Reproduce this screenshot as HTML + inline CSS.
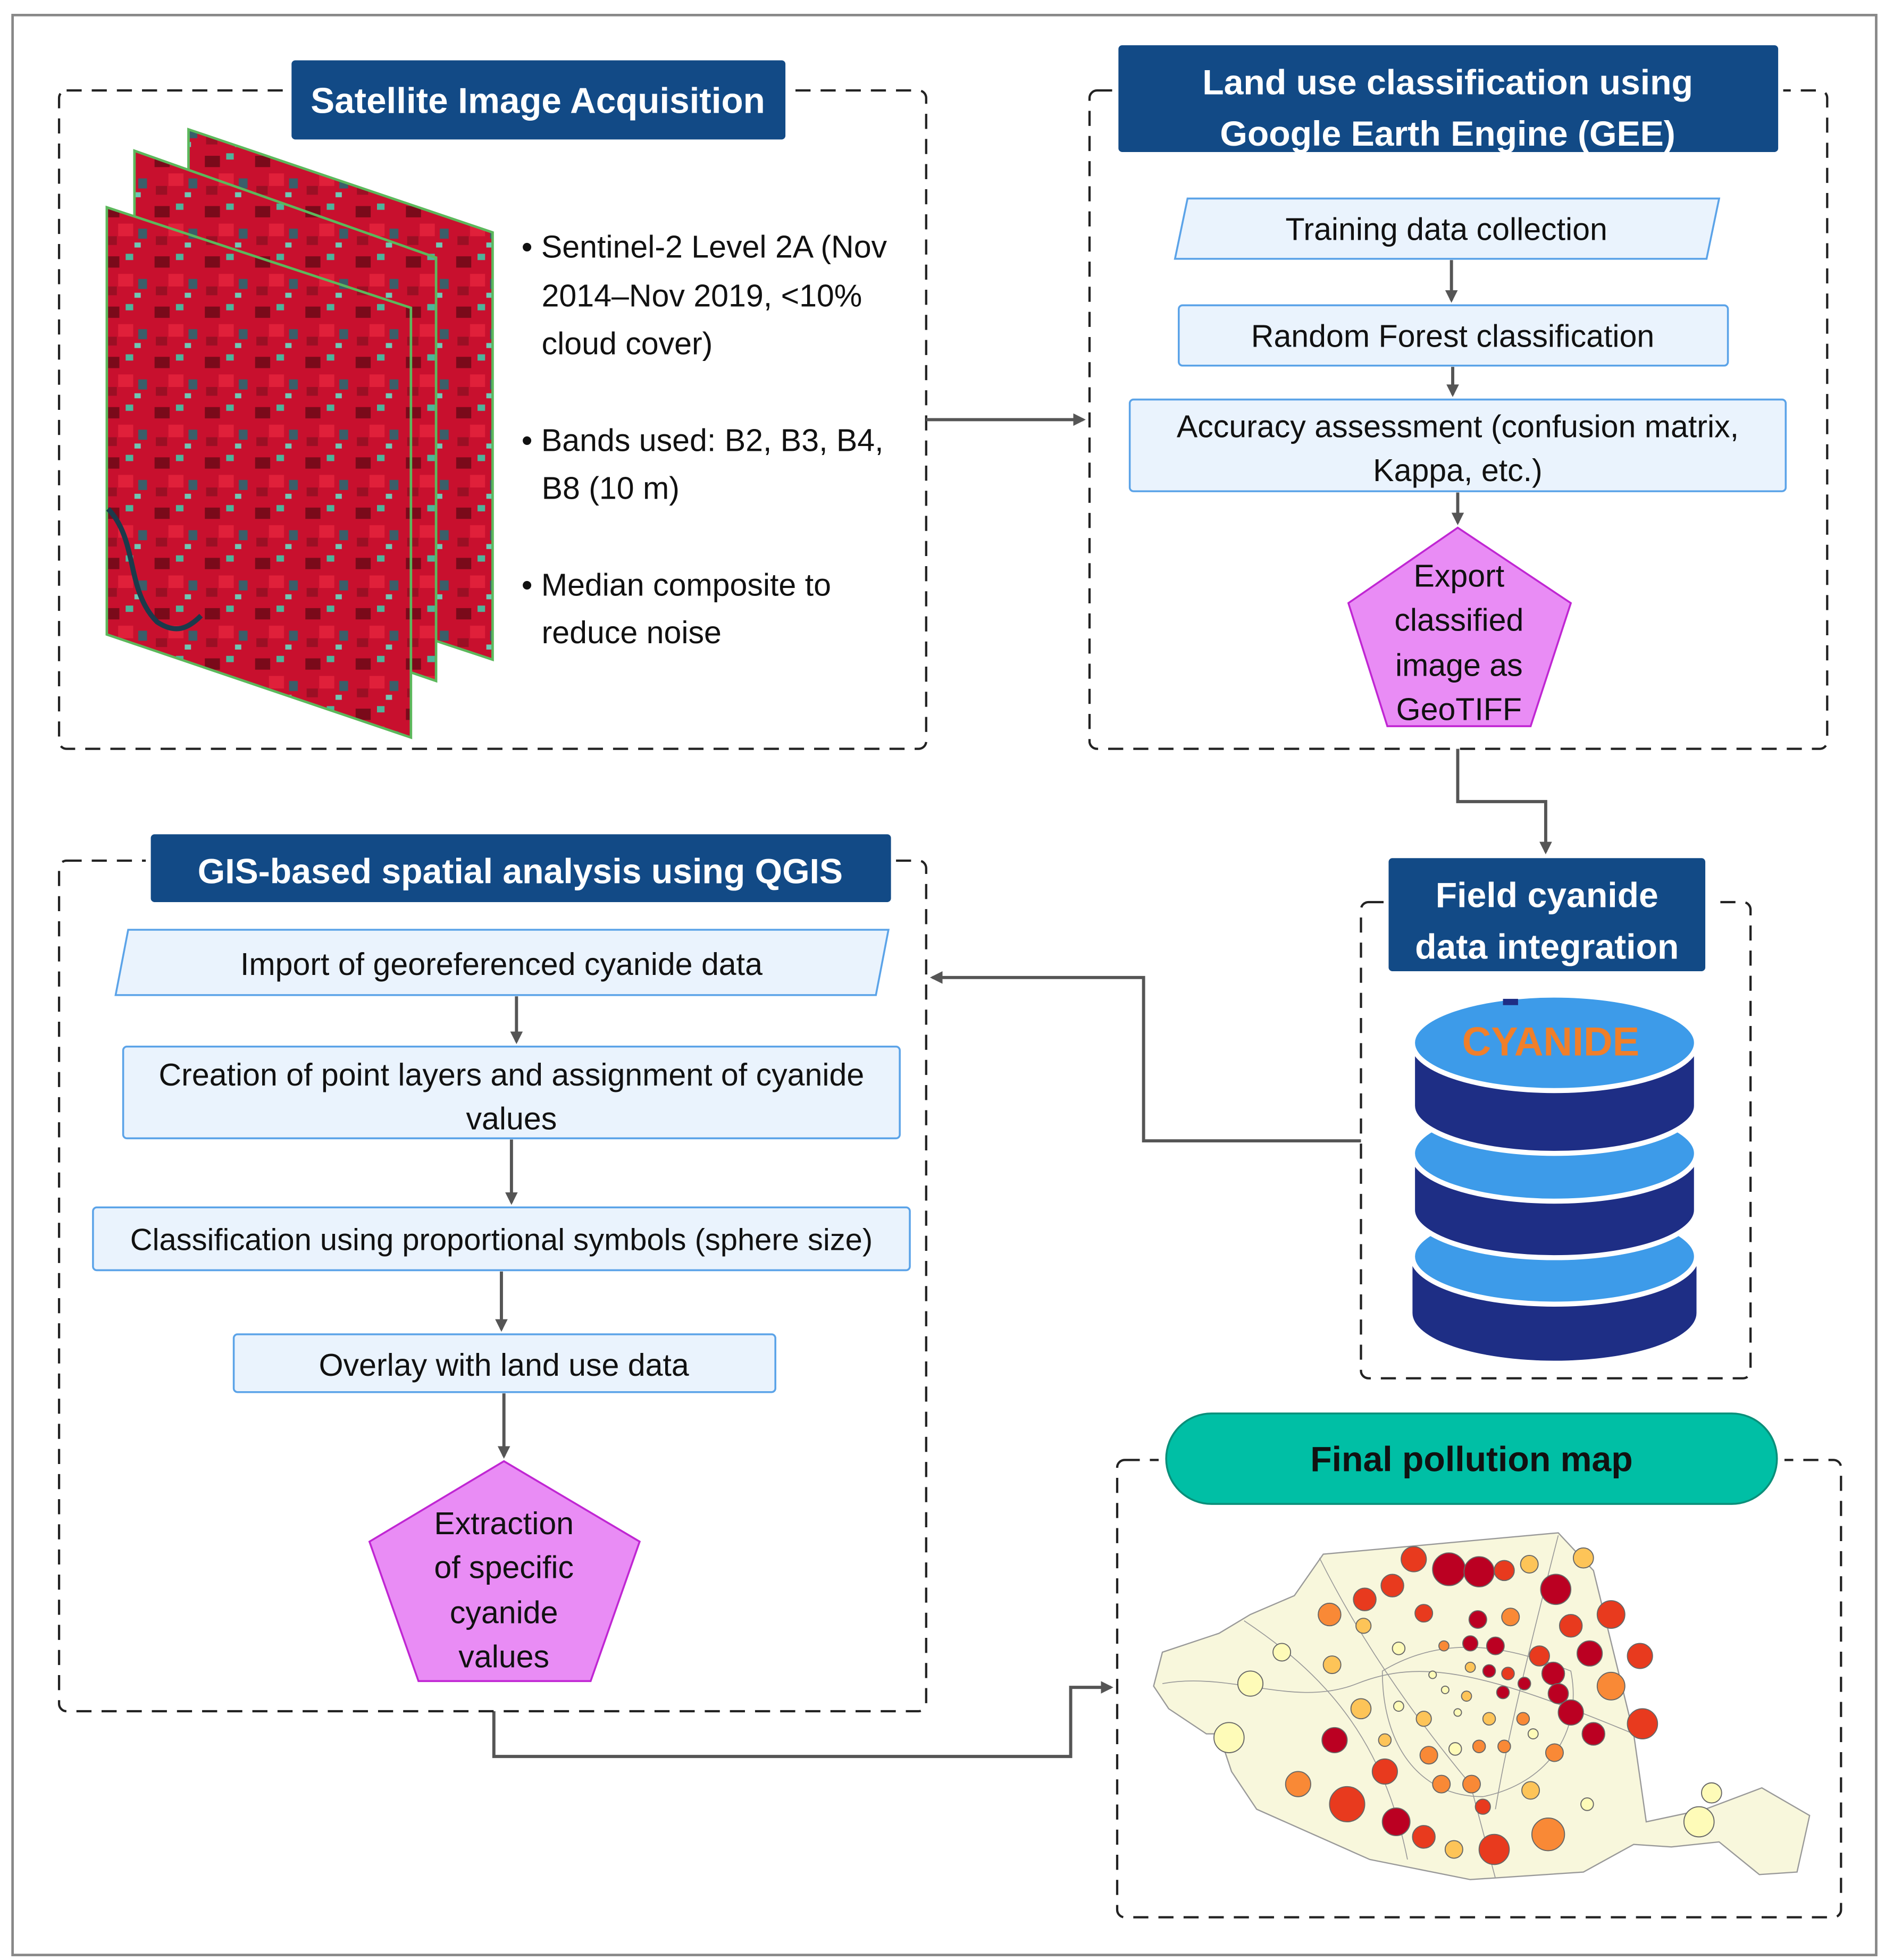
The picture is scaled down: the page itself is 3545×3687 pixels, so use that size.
<!DOCTYPE html>
<html><head><meta charset="utf-8"><style>
html,body{margin:0;padding:0;background:#fff}
svg{display:block}
text{font-family:"Liberation Sans",sans-serif}
</style></head><body>
<svg width="3545" height="3687" viewBox="0 0 1500 1560" preserveAspectRatio="none" xmlns="http://www.w3.org/2000/svg">
<defs>
<marker id="ar" markerWidth="10" markerHeight="10" refX="8" refY="5" orient="auto" markerUnits="userSpaceOnUse"><path d="M0,0 L10,5 L0,10 Z" fill="#555"/></marker>
<pattern id="sat" width="40" height="40" patternUnits="userSpaceOnUse">
<rect width="40" height="40" fill="#c8102e"/>
<rect x="3" y="4" width="12" height="9" fill="#7a0a1a"/>
<rect x="20" y="2" width="6" height="5" fill="#4fb39a"/>
<rect x="14" y="18" width="12" height="10" fill="#e0203a"/>
<rect x="30" y="22" width="7" height="8" fill="#3a5f6a"/>
<rect x="4" y="28" width="9" height="7" fill="#9b0f24"/>
<rect x="27" y="33" width="5" height="4" fill="#6fc7b4"/>
</pattern>
</defs>
<rect x="10" y="12" width="1483" height="1544" fill="none" stroke="#888" stroke-width="2"/>

<!-- Box 1 -->
<rect x="47" y="72" width="690" height="524" rx="6" fill="none" stroke="#222" stroke-width="1.8" stroke-dasharray="12,8"/>
<rect x="228" y="46" width="400" height="68" fill="#fff"/>
<rect x="232" y="48" width="393" height="63" rx="3" fill="#124a86"/>
<text x="428" y="90" font-size="28.5" font-weight="bold" fill="#fff" text-anchor="middle">Satellite Image Acquisition</text>
<polygon points="150,103 392,185 392,525 150,445" fill="url(#sat)" stroke="#5cb85c" stroke-width="2"/>
<polygon points="107,120 347,205 347,542 107,460" fill="url(#sat)" stroke="#5cb85c" stroke-width="2"/>
<polygon points="85,165 327,245 327,587 85,505" fill="url(#sat)" stroke="#5cb85c" stroke-width="2"/>
<path d="M86,405 C110,430 100,470 125,495 C140,505 150,500 160,490" stroke="#1b3a4b" stroke-width="4" fill="none"/>
<g font-size="25" fill="#111">
<text x="415" y="205">• Sentinel-2 Level 2A (Nov</text>
<text x="431" y="244">2014–Nov 2019, &lt;10%</text>
<text x="431" y="282">cloud cover)</text>
<text x="415" y="359">• Bands used: B2, B3, B4,</text>
<text x="431" y="397">B8 (10 m)</text>
<text x="415" y="474">• Median composite to</text>
<text x="431" y="512">reduce noise</text>
</g>

<!-- Box 2 -->
<rect x="867" y="72" width="587" height="524" rx="6" fill="none" stroke="#222" stroke-width="1.8" stroke-dasharray="12,8"/>
<rect x="886" y="34" width="533" height="90" fill="#fff"/>
<rect x="890" y="36" width="525" height="85" rx="3" fill="#124a86"/>
<text x="1152" y="75" font-size="28" font-weight="bold" fill="#fff" text-anchor="middle">Land use classification using</text>
<text x="1152" y="116" font-size="28" font-weight="bold" fill="#fff" text-anchor="middle">Google Earth Engine (GEE)</text>
<polygon points="945,158 1368,158 1358,206 935,206" fill="#eaf3fd" stroke="#5ba3e8" stroke-width="1.5"/>
<text x="1151" y="191" font-size="25" text-anchor="middle" fill="#111">Training data collection</text>
<rect x="938" y="243" width="437" height="48" rx="3" fill="#eaf3fd" stroke="#5ba3e8" stroke-width="1.5"/>
<text x="1156" y="276" font-size="25" text-anchor="middle" fill="#111">Random Forest classification</text>
<rect x="899" y="318" width="522" height="73" rx="3" fill="#eaf3fd" stroke="#5ba3e8" stroke-width="1.5"/>
<text x="1160" y="348" font-size="25" text-anchor="middle" fill="#111">Accuracy assessment (confusion matrix,</text>
<text x="1160" y="383" font-size="25" text-anchor="middle" fill="#111">Kappa, etc.)</text>
<polygon points="1160,420 1250,480 1218,578 1104,578 1073,480" fill="#e98cf5" stroke="#c026d3" stroke-width="1.5"/>
<g font-size="25" text-anchor="middle" fill="#111">
<text x="1161" y="467">Export</text><text x="1161" y="502">classified</text><text x="1161" y="538">image as</text><text x="1161" y="573">GeoTIFF</text>
</g>
<g stroke="#555" stroke-width="2.5" fill="none">
<line x1="1155" y1="207" x2="1155" y2="239" marker-end="url(#ar)"/>
<line x1="1156" y1="292" x2="1156" y2="314" marker-end="url(#ar)"/>
<line x1="1160" y1="392" x2="1160" y2="416" marker-end="url(#ar)"/>
<line x1="737" y1="334" x2="862" y2="334" marker-end="url(#ar)"/>
<path d="M1160,596 V638 H1230 V678" marker-end="url(#ar)"/>
<path d="M1083,908 H910 V778 H742" marker-end="url(#ar)"/>
<path d="M393,1362 V1398 H852 V1343 H884" marker-end="url(#ar)"/>
<line x1="411" y1="793" x2="411" y2="829" marker-end="url(#ar)"/>
<line x1="407" y1="907" x2="407" y2="957" marker-end="url(#ar)"/>
<line x1="399" y1="1012" x2="399" y2="1058" marker-end="url(#ar)"/>
<line x1="401" y1="1109" x2="401" y2="1159" marker-end="url(#ar)"/>
</g>

<!-- Box 3 -->
<rect x="1083" y="718" width="310" height="379" rx="6" fill="none" stroke="#222" stroke-width="1.8" stroke-dasharray="12,8"/>
<rect x="1101" y="680" width="260" height="96" fill="#fff"/>
<rect x="1105" y="683" width="252" height="90" rx="3" fill="#124a86"/>
<text x="1231" y="722" font-size="28" font-weight="bold" fill="#fff" text-anchor="middle">Field cyanide</text>
<text x="1231" y="763" font-size="28" font-weight="bold" fill="#fff" text-anchor="middle">data integration</text>
<g>
<path d="M1124,1000 V1045 A113,38 0 0 0 1350,1045 V1000 Z" fill="#1e2e85"/>
<ellipse cx="1237" cy="1000" rx="113" ry="38" fill="#3d9be9" stroke="#fff" stroke-width="4"/>
<path d="M1124,918 V963 A113,38 0 0 0 1350,963 V918 Z" fill="#1e2e85" stroke="#fff" stroke-width="4"/>
<ellipse cx="1237" cy="918" rx="113" ry="38" fill="#3d9be9" stroke="#fff" stroke-width="4"/>
<path d="M1124,830 V880 A113,38 0 0 0 1350,880 V830 Z" fill="#1e2e85" stroke="#fff" stroke-width="4"/>
<ellipse cx="1237" cy="830" rx="113" ry="38" fill="#3d9be9" stroke="#fff" stroke-width="4"/>
<rect x="1196" y="795" width="12" height="5" fill="#1e2e85"/>
<text x="1234" y="840" font-size="32" font-weight="bold" fill="#f07f2a" text-anchor="middle">CYANIDE</text>
</g>

<!-- Box 4 -->
<rect x="47" y="685" width="690" height="677" rx="6" fill="none" stroke="#222" stroke-width="1.8" stroke-dasharray="12,8"/>
<rect x="116" y="662" width="597" height="58" fill="#fff"/>
<rect x="120" y="664" width="589" height="54" rx="3" fill="#124a86"/>
<text x="414" y="703" font-size="28" font-weight="bold" fill="#fff" text-anchor="middle">GIS-based spatial analysis using QGIS</text>
<polygon points="102,740 707,740 697,792 92,792" fill="#eaf3fd" stroke="#5ba3e8" stroke-width="1.5"/>
<text x="399" y="776" font-size="25" text-anchor="middle" fill="#111">Import of georeferenced cyanide data</text>
<rect x="98" y="833" width="618" height="73" rx="3" fill="#eaf3fd" stroke="#5ba3e8" stroke-width="1.5"/>
<text x="407" y="864" font-size="25" text-anchor="middle" fill="#111">Creation of point layers and assignment of cyanide</text>
<text x="407" y="899" font-size="25" text-anchor="middle" fill="#111">values</text>
<rect x="74" y="961" width="650" height="50" rx="3" fill="#eaf3fd" stroke="#5ba3e8" stroke-width="1.5"/>
<text x="399" y="995" font-size="24.5" text-anchor="middle" fill="#111">Classification using proportional symbols (sphere size)</text>
<rect x="186" y="1062" width="431" height="46" rx="3" fill="#eaf3fd" stroke="#5ba3e8" stroke-width="1.5"/>
<text x="401" y="1095" font-size="25" text-anchor="middle" fill="#111">Overlay with land use data</text>
<polygon points="401,1163 509,1227 470,1338 333,1338 294,1227" fill="#e98cf5" stroke="#c026d3" stroke-width="1.5"/>
<g font-size="25" text-anchor="middle" fill="#111">
<text x="401" y="1221">Extraction</text><text x="401" y="1256">of specific</text><text x="401" y="1292">cyanide</text><text x="401" y="1327">values</text>
</g>

<!-- Box 5 -->
<rect x="889" y="1162" width="576" height="364" rx="6" fill="none" stroke="#222" stroke-width="1.8" stroke-dasharray="12,8"/>
<rect x="922" y="1122" width="498" height="78" fill="#fff"/>
<rect x="928" y="1125" width="486" height="72" rx="36" fill="#00bfa5" stroke="#0a8f7a" stroke-width="1.5"/>
<text x="1171" y="1171" font-size="28" font-weight="bold" fill="#111" text-anchor="middle">Final pollution map</text>
<polygon points="1053,1237 1240,1220 1268,1250 1300,1380 1310,1450 1357,1440 1402,1423 1440,1445 1430,1490 1400,1492 1368,1466 1330,1470 1300,1468 1260,1490 1170,1496 1090,1480 1000,1440 980,1410 970,1380 960,1380 930,1360 918,1342 925,1315 970,1300 995,1285 1030,1270" fill="#f8f7dc" stroke="#999" stroke-width="1"/>
<g stroke="#999" stroke-width="0.7" fill="none">
<path d="M925,1340 C980,1330 1030,1360 1080,1340 C1130,1320 1180,1330 1300,1380"/>
<path d="M1050,1240 C1080,1300 1120,1360 1170,1420 L1190,1495"/>
<path d="M1240,1222 C1220,1300 1200,1380 1190,1440"/>
<path d="M990,1290 C1050,1330 1100,1380 1120,1480"/>
<path d="M1100,1330 C1150,1300 1200,1310 1250,1330 C1260,1380 1230,1420 1180,1430 C1130,1430 1100,1390 1100,1330"/>
</g>
<g stroke="#666" stroke-width="0.8">
<circle cx="1125" cy="1241" r="10" fill="#e83a1e"/><circle cx="1153" cy="1249" r="13" fill="#bb0022"/><circle cx="1177" cy="1251" r="12" fill="#bb0022"/><circle cx="1197" cy="1250" r="8" fill="#e83a1e"/><circle cx="1217" cy="1245" r="7" fill="#fdc458"/><circle cx="1260" cy="1240" r="8" fill="#fdc458"/>
<circle cx="1108" cy="1262" r="9" fill="#e83a1e"/><circle cx="1086" cy="1273" r="9" fill="#e83a1e"/><circle cx="1238" cy="1265" r="12" fill="#bb0022"/><circle cx="1058" cy="1285" r="9" fill="#f98936"/><circle cx="1282" cy="1285" r="11" fill="#e83a1e"/>
<circle cx="1133" cy="1284" r="7" fill="#e83a1e"/><circle cx="1176" cy="1289" r="7" fill="#bb0022"/><circle cx="1202" cy="1287" r="7" fill="#f98936"/><circle cx="1250" cy="1294" r="9" fill="#e83a1e"/><circle cx="1085" cy="1294" r="6" fill="#fdc458"/>
<circle cx="1020" cy="1315" r="7" fill="#fefbb8"/><circle cx="1060" cy="1325" r="7" fill="#fdc458"/><circle cx="1113" cy="1312" r="5" fill="#fefbb8"/><circle cx="1149" cy="1310" r="4" fill="#f98936"/><circle cx="1170" cy="1308" r="6" fill="#bb0022"/><circle cx="1190" cy="1310" r="7" fill="#bb0022"/><circle cx="1225" cy="1318" r="8" fill="#e83a1e"/><circle cx="1265" cy="1316" r="10" fill="#bb0022"/><circle cx="1305" cy="1318" r="10" fill="#e83a1e"/>
<circle cx="995" cy="1340" r="10" fill="#fefbb8"/><circle cx="1140" cy="1333" r="3" fill="#fefbb8"/><circle cx="1170" cy="1327" r="4" fill="#fdc458"/><circle cx="1185" cy="1330" r="5" fill="#bb0022"/><circle cx="1200" cy="1332" r="5" fill="#e83a1e"/><circle cx="1213" cy="1340" r="5" fill="#bb0022"/><circle cx="1236" cy="1332" r="9" fill="#bb0022"/><circle cx="1282" cy="1342" r="11" fill="#f98936"/>
<circle cx="1083" cy="1360" r="8" fill="#fdc458"/><circle cx="1113" cy="1358" r="4" fill="#fefbb8"/><circle cx="1150" cy="1345" r="3" fill="#fefbb8"/><circle cx="1167" cy="1350" r="4" fill="#fdc458"/><circle cx="1196" cy="1347" r="5" fill="#bb0022"/><circle cx="1240" cy="1348" r="8" fill="#bb0022"/><circle cx="1250" cy="1363" r="10" fill="#bb0022"/>
<circle cx="978" cy="1383" r="12" fill="#fefbb8"/><circle cx="1062" cy="1385" r="10" fill="#bb0022"/><circle cx="1102" cy="1385" r="5" fill="#fdc458"/><circle cx="1133" cy="1368" r="6" fill="#fdc458"/><circle cx="1160" cy="1363" r="3" fill="#fefbb8"/><circle cx="1185" cy="1368" r="5" fill="#fdc458"/><circle cx="1212" cy="1368" r="5" fill="#f98936"/><circle cx="1268" cy="1380" r="9" fill="#bb0022"/><circle cx="1307" cy="1372" r="12" fill="#e83a1e"/>
<circle cx="1137" cy="1397" r="7" fill="#f98936"/><circle cx="1158" cy="1392" r="5" fill="#fefbb8"/><circle cx="1177" cy="1390" r="5" fill="#f98936"/><circle cx="1197" cy="1390" r="5" fill="#f98936"/><circle cx="1220" cy="1380" r="4" fill="#fefbb8"/><circle cx="1237" cy="1395" r="7" fill="#f98936"/><circle cx="1102" cy="1410" r="10" fill="#e83a1e"/>
<circle cx="1033" cy="1420" r="10" fill="#f98936"/><circle cx="1147" cy="1420" r="7" fill="#f98936"/><circle cx="1171" cy="1420" r="7" fill="#f98936"/><circle cx="1218" cy="1425" r="7" fill="#fdc458"/><circle cx="1362" cy="1427" r="8" fill="#fefbb8"/>
<circle cx="1072" cy="1436" r="14" fill="#e83a1e"/><circle cx="1180" cy="1438" r="6" fill="#e83a1e"/><circle cx="1263" cy="1436" r="5" fill="#fefbb8"/><circle cx="1352" cy="1450" r="12" fill="#fefbb8"/>
<circle cx="1111" cy="1450" r="11" fill="#bb0022"/><circle cx="1133" cy="1462" r="9" fill="#e83a1e"/><circle cx="1157" cy="1472" r="7" fill="#fdc458"/><circle cx="1189" cy="1472" r="12" fill="#e83a1e"/><circle cx="1232" cy="1460" r="13" fill="#f98936"/>
</g>
</svg>
</body></html>
